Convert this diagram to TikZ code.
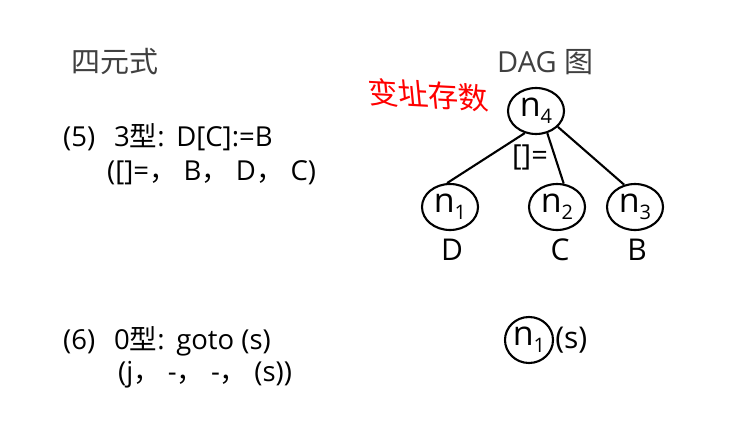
\documentclass[tikz,border=0pt]{standalone}
\usepackage{fontspec}
\setmainfont{Open Sans}
\newfontfamily\cjk{Noto Sans CJK SC}
\usetikzlibrary{shapes.geometric}
\definecolor{headgray}{HTML}{404040}
\tikzset{
  head/.style={anchor=west, inner sep=0pt, text=headgray, font=\fontsize{29}{34}\selectfont},
  body/.style={anchor=west, inner sep=0pt, font=\fontsize{27.5}{31}\selectfont},
  dagnode/.style={draw, ellipse, line width=2.1pt, minimum width=56pt, minimum height=46pt, inner sep=0pt, font=\fontsize{34}{36}\selectfont},
  daglabel/.style={inner sep=0pt, font=\fontsize{30}{34}\selectfont},
  edge/.style={line width=2.1pt},
}
\newcommand{\nsub}[1]{n\raisebox{-7pt}{\fontsize{20}{22}\selectfont #1}}
\newcommand{\fc}{{\cjk ，}\hspace{7pt}}
\begin{document}
\begin{tikzpicture}[x=1pt,y=-1pt]
\useasboundingbox (0,0) rectangle (741,433);
% headers
\node[head] (hq) at (71,62) {\cjk 四元式};
\node[head] (hd) at (497,62) {DAG {\cjk 图}};
% left text
\node[body] (t5) at (63,137) {(5)\hspace{19pt}3{\cjk 型}:\hspace{2pt} D[C]:=B};
\node[body] (t5b) at (107,173) {([]=\fc B\fc D\fc C)};
\node[body] (t6) at (63,341) {(6)\hspace{19pt}0{\cjk 型}:\hspace{2pt} goto (s)};
\node[body] (t6b) at (118,375) {(j\fc -\fc -\fc (s))};
% red annotation
\node[inner sep=0pt, text=red, font=\cjk\fontsize{30}{32}\selectfont, rotate=-3, xslant=-0.15] (red) at (428,95) {变址存数};
% DAG
\node[dagnode] (n4) at (536,111) {\nsub{4}};
\node[dagnode] (n1) at (450,207) {\nsub{1}};
\node[dagnode] (n2) at (557,207) {\nsub{2}};
\node[dagnode] (n3) at (635,207) {\nsub{3}};
\draw[edge] (n4.243) -- (n1.97);
\draw[edge] (n4.297) -- (n2.74);
\draw[edge] (n4.324) -- (n3.116);
\node[body, anchor=center, font=\fontsize{29}{32}\selectfont] (op) at (530,157) {[]=};
\node[daglabel] (lD) at (452,250) {D};
\node[daglabel] (lC) at (560,250) {C};
\node[daglabel] (lB) at (637,250) {B};
% bottom
\node[dagnode, minimum width=48pt, minimum height=46pt] (m1) at (529,340) {\nsub{1}};
\node[daglabel, anchor=west, inner sep=1pt] (ms) at (m1.east) {(s)};
\end{tikzpicture}
\end{document}
